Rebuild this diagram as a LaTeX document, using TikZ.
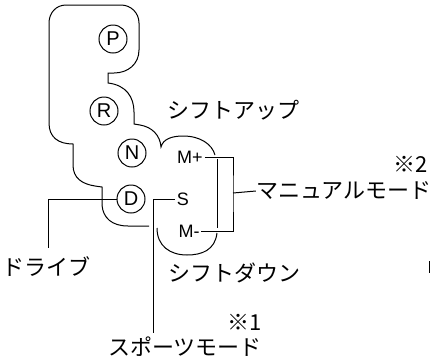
\documentclass[tikz,border=0pt]{standalone}
\usepackage{fontspec}
\setmainfont{Liberation Sans}
\newfontfamily\jpfont{Noto Sans CJK JP}
\usetikzlibrary{calc}

\begin{document}
\begin{tikzpicture}[x=1pt,y=-1pt,line width=1pt,
  gear/.style={draw,circle,inner sep=0pt,minimum size=28pt,font=\fontsize{20}{20}\selectfont},
  mode/.style={inner sep=1.5pt,font=\fontsize{18}{18}\selectfont},
  jp/.style={inner sep=0pt,font=\jpfont\fontsize{22}{22}\selectfont}]
  \useasboundingbox (0,0) rectangle (434,360);
  % gate outline
  \draw (102,205) -- (102,187) -- (95,186) .. controls (82,184) and (73,178) .. (73,165)
    -- (73,144) .. controls (58,144) and (49,137) .. (49,123) -- (49,23)
    .. controls (49,13) and (56,5) .. (66,5) -- (121,5) .. controls (131,5) and (139,13) .. (139,23)
    -- (139,50) .. controls (139,64) and (128,73) .. (114,73) -- (108,73) -- (108,83)
    .. controls (126,85) and (134,97) .. (134,112) -- (134,124) -- (140,125)
    .. controls (152,127) and (160,135) .. (161,147)
    .. controls (163,139) and (172,136) .. (183,136) .. controls (200,136) and (212,144) .. (215,155);
  \draw (102,205) .. controls (103,218) and (112,226) .. (128,226) -- (149,226);
  \draw (217,159) -- (217,228);
  \draw (217,233) .. controls (215,250) and (202,255) .. (187,255)
    .. controls (170,255) and (157,246) .. (157,228);
  % shift positions
  \foreach \n/\x/\y in {P/113/39,R/104/111,N/132/153,D/131/199}{
    \node[gear] (\n) at (\x,\y) {\n};}
  \node[mode] (mp) at (190,157) {M+};
  \node[mode] (s) at (183,199) {S};
  \node[mode] (mm) at (189,231) {M-};
  % labels
  \node[jp] (up) at (233,110) {シフトアップ};
  \node[jp] (down) at (234,273) {シフトダウン};
  \node[jp] (manual) at (344,191) {マニュアルモード};
  \node[jp] (note2) at (411,164) {※2};
  \node[jp] (drive) at (46,267) {ドライブ};
  \node[jp] (note1) at (245,322) {※1};
  \node[jp] (sport) at (185,347) {スポーツモード};
  % leader lines
  \coordinate (bk) at (233,193);
  \coordinate (dr) at (48,248);
  \coordinate (sp) at (153,333);
  \coordinate (cut) at (429,261);
  \draw (mp.east) -| (bk) |- (mm.east);
  \draw (bk) -- (manual.west);
  \draw (s.west) -| (sp);
  \draw (D.west) -| (dr);
  \draw (cut) -- ++(0,12);
\end{tikzpicture}
\end{document}
